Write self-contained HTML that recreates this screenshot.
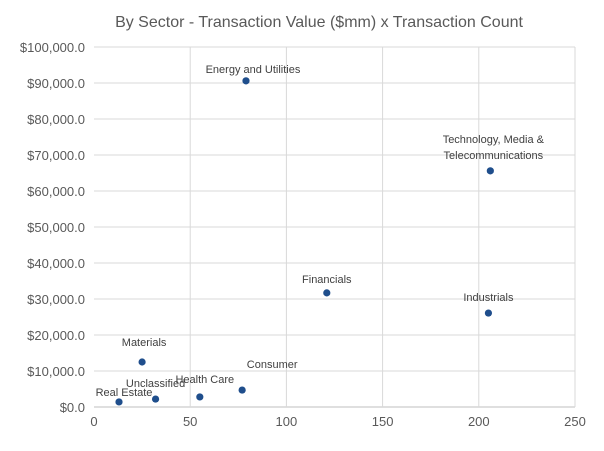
<!DOCTYPE html>
<html><head><meta charset="utf-8"><style>
body{margin:0;background:#fff;}
svg{font-family:"Liberation Sans",sans-serif;}
</style></head><body>
<svg width="604" height="446" id="c">
<rect width="604" height="446" fill="#fff"/>
<text x="319" y="27" text-anchor="middle" font-size="16" fill="#595959">By Sector - Transaction Value ($mm) x Transaction Count</text>
<g id="grid"></g><g id="axes"></g><g id="pts"></g>
</svg>
<script>
const categories=["Energy and Utilities","Technology, Media & Telecommunications","Financials","Industrials","Materials","Consumer","Health Care","Unclassified","Real Estate"];
const countValues=[79,206,121,205,25,77,55,32,13];
const valueValues=[90600,65600,31700,26100,12500,4700,2800,2200,1400];
const xTicks=[0,50,100,150,200,250];
const yTicks=[0,10000,20000,30000,40000,50000,60000,70000,80000,90000,100000];
const lblDx=[7,3,0,0,2,30,5,0,5];
const lblDy=[-8,-12,-10,-12,-16,-22,-14,-12,-6];
const X0=94,X1=575,Y0=407,Y1=47;
const sx=v=>X0+(v-0)/250*(X1-X0), sy=v=>Y0-(v/100000)*(Y0-Y1);
const NS="http://www.w3.org/2000/svg";
function mk(t,a,p,txt){const e=document.createElementNS(NS,t);for(const k in a)e.setAttribute(k,a[k]);if(txt!==undefined)e.textContent=txt;p.appendChild(e);return e;}
const g=document.getElementById('grid'),ax=document.getElementById('axes'),pts=document.getElementById('pts');
yTicks.forEach(v=>{
 const l=mk('line',{x1:X0,x2:X1,y1:sy(v),y2:sy(v),stroke:v===0?'#bfbfbf':'#d9d9d9','stroke-width':1},g);
 
 
 const t=mk('text',{x:X0-9,y:sy(v)+5,'text-anchor':'end','font-size':13,fill:'#595959'},ax,'$'+v.toLocaleString('en-US')+'.0');
 
 
});
xTicks.forEach(v=>{
 if(v>0){const l=mk('line',{x1:sx(v),x2:sx(v),y1:Y1,y2:Y0,stroke:'#d9d9d9','stroke-width':1},g);
 
 }
 const t=mk('text',{x:sx(v),y:Y0+19,'text-anchor':'middle','font-size':13,fill:'#595959'},ax,String(v));
 
 
});
categories.forEach((c,i)=>{
 const x=sx(countValues[i]),y=sy(valueValues[i]);
 const p=mk('circle',{cx:x,cy:y,r:3.6,fill:'#1f4e8c'},pts);
 
 
 const lines=c==="Technology, Media & Telecommunications"?["Technology, Media &","Telecommunications"]:[c];
 lines.forEach((s,j)=>{
  const t=mk('text',{x:x+lblDx[i],y:y+lblDy[i]-(lines.length-1-j)*16,'text-anchor':'middle','font-size':11,fill:'#404040'},pts,s);
  
  
 });
});
</script>
</body></html>
